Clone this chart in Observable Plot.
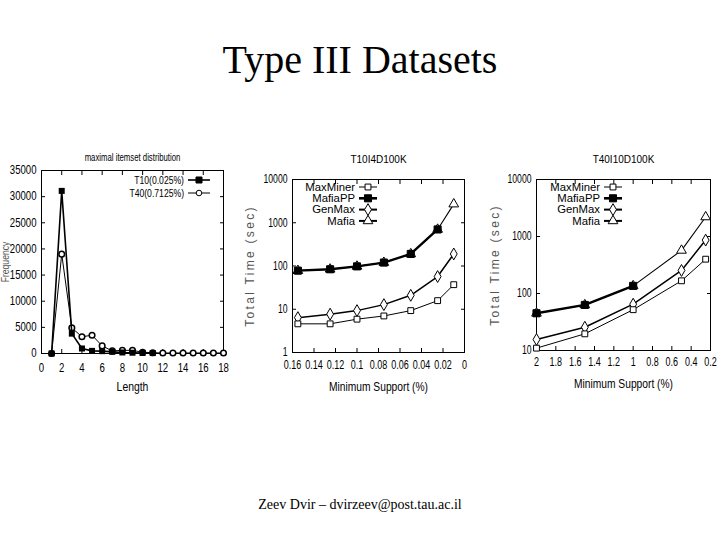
<!DOCTYPE html>
<html><head><meta charset="utf-8">
<script src="https://cdn.jsdelivr.net/npm/d3@7"></script>
<script src="https://cdn.jsdelivr.net/npm/@observablehq/plot@0.6"></script>
<style>
body{margin:0;background:#fff;}
#slide{position:relative;width:720px;height:540px;overflow:hidden;background:#fff;}
.abs{position:absolute;}
#title{left:0;width:720px;top:40px;text-align:center;font:40px "Liberation Serif","Times New Roman",serif;line-height:40px;color:#000;}
#footer{left:0;width:720px;top:497px;text-align:center;font:14px "Liberation Serif","Times New Roman",serif;line-height:16px;color:#000;}
#c1{left:0;top:140px;} #c2{left:240px;top:140px;} #c3{left:485px;top:140px;}
#leg{left:0;top:0;}
</style></head>
<body>
<div id="slide">
  <div id="title" class="abs">Type III Datasets</div>
  <div id="c1" class="abs"></div>
  <div id="c2" class="abs"></div>
  <div id="c3" class="abs"></div>
  <div id="footer" class="abs">Zeev Dvir – dvirzeev@post.tau.ac.il</div>
</div>
<script>
// ---------- data: chart 1 (maximal itemset distribution) ----------
const lenT10  = [1,2,3,4,5,6,7,8,9,10,11];
const freqT10 = [0,31100,3800,960,500,450,320,200,150,100,80];
const lenT40  = [1,2,3,4,5,6,7,8,9,10,11,12,13,14,15,16,17,18];
const freqT40 = [0,19000,4900,3200,3500,1450,500,600,600,250,150,100,100,100,100,100,100,100];
const lenTicks  = [0,2,4,6,8,10,12,14,16,18];
const freqTicks = [0,5000,10000,15000,20000,25000,30000,35000];

// ---------- data: chart 2 (T10I4D100K) ----------
const sup2      = [0.155,0.125,0.1,0.075,0.05,0.025,0.01];
const maxMiner2 = [4.6,4.6,5.9,7.0,9.3,15.8,37];
const mafiaPP2  = [78,84,98,120,190,700];
const genMax2   = [6.4,7.7,9.3,12.8,21,57,190];
const mafia2    = [78,84,98,120,190,700,2700];
const supTicks2  = [0.16,0.14,0.12,0.1,0.08,0.06,0.04,0.02,0];
const timeTicks2 = [1,10,100,1000,10000];

// ---------- data: chart 3 (T40I10D100K) ----------
const sup3      = [2,1.5,1,0.5,0.25];
const maxMiner3 = [11,19.6,52,167,400];
const mafiaPP3  = [45,63,136];
const genMax3   = [15.6,25.6,65,254,865];
const mafia3    = [45,63,136,570,2200];
const supTicks3  = [2,1.8,1.6,1.4,1.2,1,0.8,0.6,0.4,0.2];
const timeTicks3 = [10,100,1000,10000];

const SANS = '"Liberation Sans",Arial,Helvetica,sans-serif';
const zip = (xs, ys) => ys.map((y, i) => ({x: xs[i], y}));
const fmtNum = d => String(+(+d).toFixed(3));

const styleSpec = {
  maxMiner: {symbol: "square",   fill: "white", r: 3.3, sw: 1,   lsw: 1},
  mafiaPP:  {symbol: "square",   fill: "black", r: 4,   sw: 2.4, lsw: 2.6},
  genMax:   {symbol: "diamond",  fill: "white", r: 3.6, sw: 1.5, lsw: 2},
  mafia:    {symbol: "triangle", fill: "white", r: 3.6, sw: 1.1, lsw: 2}
};

function seriesMarks(data, spec) {
  return [
    Plot.line(data, {x: "x", y: "y", stroke: "black", strokeWidth: spec.sw}),
    Plot.dot(data, {x: "x", y: "y", symbol: spec.symbol, r: spec.r, fill: spec.fill, stroke: "black", strokeWidth: 1})
  ];
}

function axes(xt, yt, fontX, fontY, padX, padY) {
  return [
    Plot.axisX({ticks: xt, tickSize: -4, tickPadding: padX, tickFormat: fmtNum, label: null, fontSize: fontX}),
    Plot.axisX({anchor: "top", ticks: xt, tickSize: -4, tickFormat: () => "", label: null}),
    Plot.axisY({ticks: yt, tickSize: -4, tickPadding: padY, tickFormat: fmtNum, label: null, fontSize: fontY}),
    Plot.axisY({anchor: "right", ticks: yt, tickSize: -4, tickFormat: () => "", label: null})
  ];
}

// horizontally condense tick labels (narrow gnuplot font)
function squeezeTicks(svg, s) {
  d3.select(svg).selectAll("g[aria-label$='tick label'] text").each(function() {
    const t = this.getAttribute("transform") || "";
    this.setAttribute("transform", (t + ` scale(${s},1)`).trim());
  });
}
// condense / space a specific text element
function styleText(svg, str, s, spacing) {
  d3.select(svg).selectAll("text").each(function() {
    if (this.textContent !== str) return;
    const t = this.getAttribute("transform") || "";
    this.setAttribute("transform", (t + ` scale(${s},1)`).trim());
    if (spacing) this.setAttribute("letter-spacing", spacing);
  });
}

// ---------- chart 1 ----------
const p1 = Plot.plot({
  width: 235, height: 260,
  marginLeft: 41, marginRight: 12, marginTop: 30, marginBottom: 47,
  style: {fontFamily: SANS, fontSize: "10px", color: "black", background: "transparent", overflow: "visible"},
  x: {domain: [0, 18]},
  y: {domain: [0, 35000]},
  marks: [
    Plot.frame({stroke: "black"}),
    ...axes(lenTicks, freqTicks, 12, 12, 14, 9),
    Plot.text(["maximal itemset distribution"], {frameAnchor: "top", dy: -17, fontSize: 10.5, fill: "black"}),
    Plot.text(["Length"], {frameAnchor: "bottom", dy: 37, fontSize: 13}),
    Plot.text(["Frequency"], {frameAnchor: "left", textAnchor: "middle", rotate: -90, dx: -36, fontSize: 11, fill: "#555"}),
    Plot.line(zip(lenT40, freqT40), {x: "x", y: "y", stroke: "black", strokeWidth: 1}),
    Plot.dot(zip(lenT40, freqT40), {x: "x", y: "y", symbol: "circle", r: 2.8, fill: "white", stroke: "black"}),
    Plot.line(zip(lenT10, freqT10), {x: "x", y: "y", stroke: "black", strokeWidth: 1.6}),
    Plot.dot(zip(lenT10, freqT10), {x: "x", y: "y", symbol: "square", r: 3.4, fill: "black"})
  ]
});
squeezeTicks(p1, 0.8);
styleText(p1, "Length", 0.8);
styleText(p1, "maximal itemset distribution", 0.74);
styleText(p1, "Frequency", 0.78);
document.getElementById("c1").appendChild(p1);

// ---------- chart 2 ----------
const p2 = Plot.plot({
  width: 235, height: 265,
  marginLeft: 52, marginRight: 11, marginTop: 39, marginBottom: 53,
  style: {fontFamily: SANS, fontSize: "11px", color: "black", background: "transparent", overflow: "visible"},
  x: {domain: [0.16, 0]},
  y: {type: "log", domain: [1, 10000]},
  marks: [
    Plot.frame({stroke: "black"}),
    ...axes(supTicks2, timeTicks2, 12.5, 12, 12, 9),
    Plot.text(["T10I4D100K"], {frameAnchor: "top", dy: -24, fontSize: 10}),
    Plot.text(["Minimum Support (%)"], {frameAnchor: "bottom", dy: 38, fontSize: 13.5}),
    Plot.text(["Total Time (sec)"], {frameAnchor: "left", textAnchor: "middle", rotate: -90, dx: -42, fontSize: 12, fill: "#555"}),
    ...seriesMarks(zip(sup2, mafia2), styleSpec.mafia),
    ...seriesMarks(zip(sup2, genMax2), styleSpec.genMax),
    ...seriesMarks(zip(sup2, maxMiner2), styleSpec.maxMiner),
    ...seriesMarks(zip(sup2, mafiaPP2), styleSpec.mafiaPP)
  ]
});
squeezeTicks(p2, 0.72);
styleText(p2, "Minimum Support (%)", 0.76);
styleText(p2, "Total Time (sec)", 1, "2.3px");
document.getElementById("c2").appendChild(p2);

// ---------- chart 3 ----------
const p3 = Plot.plot({
  width: 235, height: 265,
  marginLeft: 51, marginRight: 10, marginTop: 39, marginBottom: 55,
  style: {fontFamily: SANS, fontSize: "11px", color: "black", background: "transparent", overflow: "visible"},
  x: {domain: [2, 0.2]},
  y: {type: "log", domain: [10, 10000]},
  marks: [
    Plot.frame({stroke: "black"}),
    ...axes(supTicks3, timeTicks3, 12.5, 12, 11, 9),
    Plot.text(["T40I10D100K"], {frameAnchor: "top", dy: -24, fontSize: 10}),
    Plot.text(["Minimum Support (%)"], {frameAnchor: "bottom", dy: 37, fontSize: 13.5}),
    Plot.text(["Total Time (sec)"], {frameAnchor: "left", textAnchor: "middle", rotate: -90, dx: -41, fontSize: 12, fill: "#555"}),
    ...seriesMarks(zip(sup3, mafia3), styleSpec.mafia),
    ...seriesMarks(zip(sup3, genMax3), styleSpec.genMax),
    ...seriesMarks(zip(sup3, maxMiner3), styleSpec.maxMiner),
    ...seriesMarks(zip(sup3, mafiaPP3), styleSpec.mafiaPP)
  ]
});
squeezeTicks(p3, 0.72);
styleText(p3, "Minimum Support (%)", 0.76);
styleText(p3, "Total Time (sec)", 1, "2.3px");
document.getElementById("c3").appendChild(p3);

// ---------- legends (overlay) ----------
const legendNames1 = ["T10(0.025%)", "T40(0.7125%)"];
const legendNames2 = ["MaxMiner", "MafiaPP", "GenMax", "Mafia"];
const symMap = {square: d3.symbolSquare, circle: d3.symbolCircle, diamond: d3.symbolDiamond, triangle: d3.symbolTriangle};

const ov = d3.select("#slide").append("svg").attr("class", "abs").attr("id", "leg")
  .attr("width", 720).attr("height", 540).style("pointer-events", "none");

function drawLegend(textRight, top, rowH, lineLen, names, specs, fontSize, sx) {
  const g = ov.append("g").attr("transform", `translate(${textRight},${top})`);
  names.forEach((name, i) => {
    const s = specs[i];
    const y = i * rowH;
    g.append("text").attr("x", 0).attr("y", y).attr("dy", "0.35em")
      .attr("transform", `scale(${sx},1)`)
      .attr("text-anchor", "end").attr("font-family", SANS).attr("font-size", fontSize).text(name);
    g.append("line").attr("x1", 4).attr("x2", 4 + lineLen).attr("y1", y).attr("y2", y)
      .attr("stroke", "black").attr("stroke-width", s.lsw);
    const area = Math.PI * s.r * s.r;
    g.append("path").attr("d", d3.symbol(symMap[s.symbol], area)())
      .attr("transform", `translate(${4 + lineLen / 2},${y})`)
      .attr("fill", s.fill).attr("stroke", "black").attr("stroke-width", 1);
  });
}

drawLegend(184, 180, 13, 22, legendNames1, [
  {symbol: "square", fill: "black", r: 3.4, lsw: 1.6},
  {symbol: "circle", fill: "white", r: 2.8, lsw: 1}
], 11.5, 0.75);
const specs2 = [styleSpec.maxMiner, styleSpec.mafiaPP, styleSpec.genMax, styleSpec.mafia];
drawLegend(355, 187, 11.3, 18, legendNames2, specs2, 10.3, 1.1);
drawLegend(600, 187, 11.3, 18, legendNames2, specs2, 10.3, 1.1);
</script>
</body></html>
